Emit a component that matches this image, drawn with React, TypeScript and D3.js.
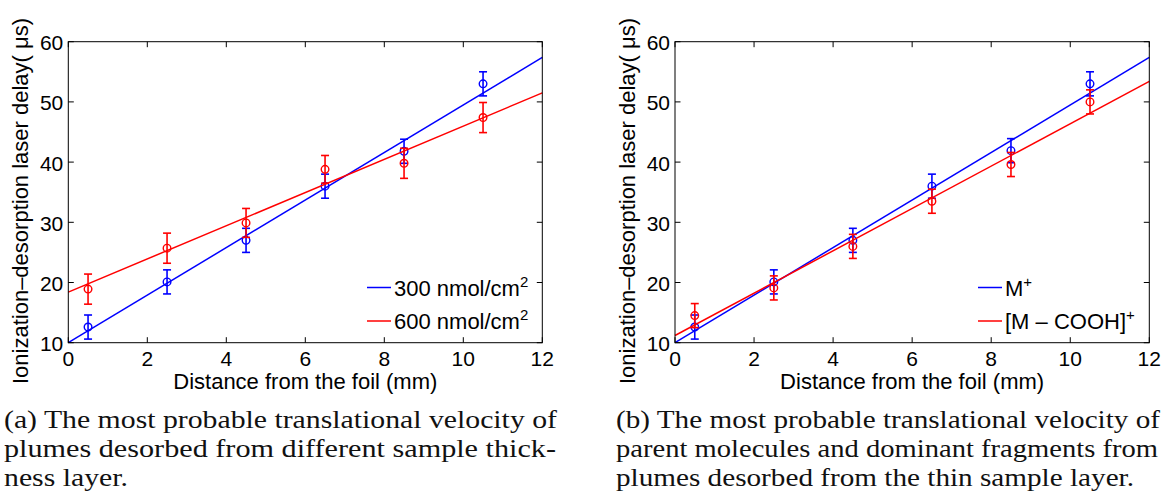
import React from "react";
import * as d3 from "d3";

// ---- data ----
const distances = [0.5, 2.5, 4.5, 6.5, 8.5, 10.5];
const xTicks = [0, 2, 4, 6, 8, 10, 12];
const yTicks = [10, 20, 30, 40, 50, 60];
const fitX = [0, 12];

// panel (a)
const aBlue = [12.6, 20.1, 27.0, 36.0, 41.8, 53.0];
const aBlueErr = [2, 2, 2, 2, 2, 2];
const aRed = [18.9, 25.7, 29.9, 38.8, 39.8, 47.4];
const aRedErr = [2.5, 2.5, 2.4, 2.3, 2.5, 2.5];
const aBlueFit = [10.0, 57.4];
const aRedFit = [18.4, 51.5];
const aLegend = ["300 nmol/cm", "600 nmol/cm"];
const aLegendSup = ["2", "2"];

// panel (b)
const bBlue = [12.6, 20.1, 27.0, 36.0, 41.9, 53.0];
const bBlueErr = [2, 2, 2, 2, 2, 2];
const bRed = [14.5, 19.1, 26.0, 33.5, 39.6, 50.0];
const bRedErr = [2, 2, 2, 2, 2, 2];
const bBlueFit = [10.0, 57.4];
const bRedFit = [11.2, 53.4];
const bLegend = ["M", "[M \u2013 COOH]"];
const bLegendSup = ["+", "+"];

const xLabel = "Distance from the foil (mm)";
const yLabel = "Ionization\u2013desorption laser delay( \u03bcs)";

const captionA = [
  "(a) The most probable translational velocity of",
  "plumes desorbed from different sample thick-",
  "ness layer.",
];
const captionB = [
  "(b) The most probable translational velocity of",
  "parent molecules and dominant fragments from",
  "plumes desorbed from the thin sample layer.",
];

const BLUE = "#0000ff";
const RED = "#ff0000";
const SANS = "'Liberation Sans', Arial, Helvetica, sans-serif";
const SERIF = "'Liberation Serif', 'Times New Roman', serif";

type Series = { y: number[]; err: number[]; fit: number[]; color: string };

function Panel(props: {
  left: number;
  right: number;
  series: Series[];
  legend: string[];
  legendSup: string[];
  legendX: number;
}) {
  const { left, right, series, legend, legendSup, legendX } = props;
  const top = 41.7;
  const bottom = 342.7;
  const x = d3.scaleLinear().domain([0, 12]).range([left, right]);
  const y = d3.scaleLinear().domain([10, 60]).range([bottom, top]);
  const line = d3
    .line<number>()
    .x((_, i) => x(fitX[i]))
    .y((d) => y(d));
  const tl = 5.5;
  const capW = 4;
  return (
    <g>
      {series.map((s, si) => (
        <g key={si}>
          <path d={line(s.fit) || ""} stroke={s.color} strokeWidth={1.5} fill="none" />
          {distances.map((d, i) => (
            <g key={i} stroke={s.color} fill="none">
              <line x1={x(d)} x2={x(d)} y1={y(s.y[i] - s.err[i])} y2={y(s.y[i] + s.err[i])} strokeWidth={1.6} />
              <line x1={x(d) - capW} x2={x(d) + capW} y1={y(s.y[i] + s.err[i])} y2={y(s.y[i] + s.err[i])} strokeWidth={1.6} />
              <line x1={x(d) - capW} x2={x(d) + capW} y1={y(s.y[i] - s.err[i])} y2={y(s.y[i] - s.err[i])} strokeWidth={1.6} />
              <circle cx={x(d)} cy={y(s.y[i])} r={3.8} strokeWidth={1.4} />
            </g>
          ))}
        </g>
      ))}
      <rect x={left} y={top} width={right - left} height={bottom - top} fill="none" stroke="#000" strokeWidth={1} />
      {xTicks.map((t) => (
        <g key={"x" + t}>
          <line x1={x(t)} x2={x(t)} y1={bottom} y2={bottom - tl} stroke="#000" />
          <line x1={x(t)} x2={x(t)} y1={top} y2={top + tl} stroke="#000" />
          <text x={x(t)} y={365.5} textAnchor="middle" fontFamily={SANS} fontSize={21}>
            {t}
          </text>
        </g>
      ))}
      {yTicks.map((t) => (
        <g key={"y" + t}>
          <line x1={left} x2={left + tl} y1={y(t)} y2={y(t)} stroke="#000" />
          <line x1={right} x2={right - tl} y1={y(t)} y2={y(t)} stroke="#000" />
          <text x={left - 5} y={y(t) + 8.5} textAnchor="end" fontFamily={SANS} fontSize={21}>
            {t}
          </text>
        </g>
      ))}
      <text x={(left + right) / 2} y={389} textAnchor="middle" fontFamily={SANS} fontSize={22}>
        {xLabel}
      </text>
      <text
        transform={`translate(${left - 40},201) rotate(-90)`}
        textAnchor="middle"
        fontFamily={SANS}
        fontSize={22}
      >
        {yLabel}
      </text>
      {legend.map((l, i) => {
        const ly = 287.5 + i * 33.5;
        return (
          <g key={"l" + i}>
            <line x1={legendX} x2={legendX + 24} y1={ly} y2={ly} stroke={series[i].color} strokeWidth={1.5} />
            <text x={legendX + 27} y={ly + 8} fontFamily={SANS} fontSize={22}>
              {l}
              <tspan dy={-9} fontSize={15}>
                {legendSup[i]}
              </tspan>
            </text>
          </g>
        );
      })}
    </g>
  );
}

function Caption(props: { lines: string[]; x: number; widths: (number | null)[] }) {
  const { lines, x, widths } = props;
  return (
    <g fontFamily={SERIF} fontSize={25} fill="#111">
      {lines.map((l, i) => (
        <text
          key={i}
          x={x}
          y={428 + i * 29}
          textLength={widths[i] ?? undefined}
          lengthAdjust="spacingAndGlyphs"
        >
          {l}
        </text>
      ))}
    </g>
  );
}

export default function App() {
  return (
    <svg
      width={1164}
      height={495}
      style={{ position: "absolute", left: 0, top: 0, background: "#fff" }}
    >
      <rect width={1164} height={495} fill="#fff" />
      <Panel
        left={68.3}
        right={542.3}
        series={[
          { y: aBlue, err: aBlueErr, fit: aBlueFit, color: BLUE },
          { y: aRed, err: aRedErr, fit: aRedFit, color: RED },
        ]}
        legend={aLegend}
        legendSup={aLegendSup}
        legendX={367}
      />
      <Panel
        left={675}
        right={1149.3}
        series={[
          { y: bBlue, err: bBlueErr, fit: bBlueFit, color: BLUE },
          { y: bRed, err: bRedErr, fit: bRedFit, color: RED },
        ]}
        legend={bLegend}
        legendSup={bLegendSup}
        legendX={978}
      />
      <Caption lines={captionA} x={4} widths={[553, 552, 124]} />
      <Caption lines={captionB} x={616} widths={[544, 542, 518]} />
    </svg>
  );
}
